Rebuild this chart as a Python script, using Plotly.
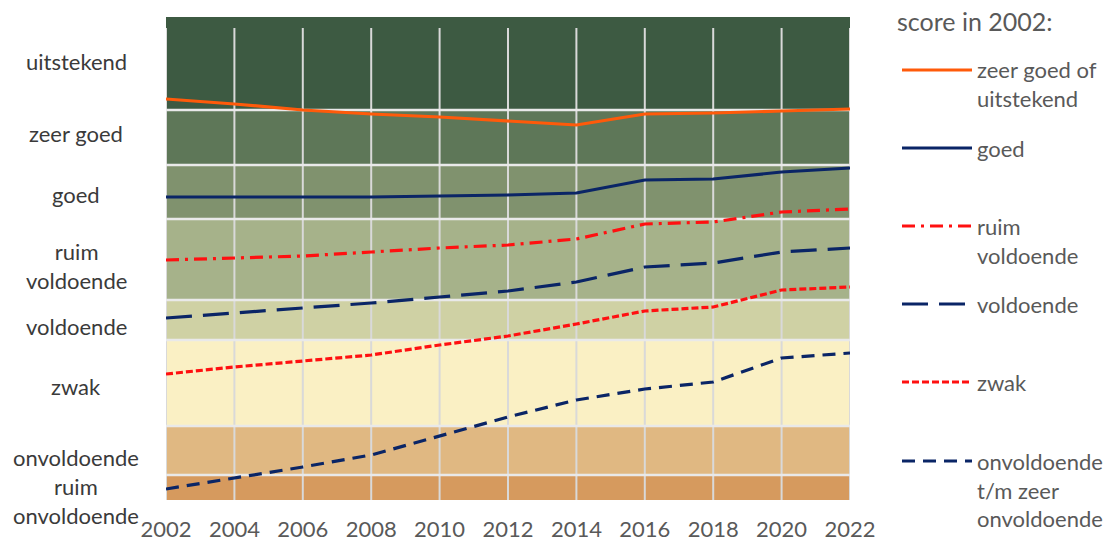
import plotly.graph_objects as go

# ---------------- data ----------------
years = [2002, 2004, 2006, 2008, 2010, 2012, 2014, 2016, 2018, 2020, 2022]

# score scale (0 = bottom of "ruim onvoldoende", 483 = top of "uitstekend")
zeer_goed_of_uitstekend = [401, 396, 390, 386, 383, 379, 375, 386, 387, 389, 391]
goed = [303, 303, 303, 303, 304, 305, 307, 320, 321, 328, 332]
ruim_voldoende = [240, 242, 244, 248, 252, 255, 261, 276, 278, 288, 291]
voldoende = [182, 187, 192, 197, 203, 209, 218, 233, 237, 248, 252]
zwak = [126, 133, 139, 145, 155, 164, 176, 189, 193, 210, 213]
onvoldoende_tm_zeer = [11, 22, 33, 45, 64, 83, 100, 111, 118, 142, 147]

band_names = ["ruim<br>onvoldoende", "onvoldoende", "zwak", "voldoende",
              "ruim<br>voldoende", "goed", "zeer goed", "uitstekend"]
band_bounds = [0, 25, 74, 160, 200, 281, 335, 390, 483]
band_label_y = [-1, 43, 114, 174, 234, 305, 367, 438]
band_colors = ["#D69A5E", "#E0B882", "#FAF0C4", "#CFD1A4",
               "#A6B28A", "#80926E", "#5E7758", "#3D5A42"]

series_names = ["zeer goed of<br>uitstekend", "goed", "ruim<br>voldoende",
                "voldoende", "zwak", "onvoldoende<br>t/m zeer<br>onvoldoende"]
series_values = [zeer_goed_of_uitstekend, goed, ruim_voldoende, voldoende, zwak,
                 onvoldoende_tm_zeer]
series_colors = ["#FF5A0A", "#0A2566", "#FF1010", "#0A2566", "#FF1010", "#0A2566"]
series_dash = ["solid", "solid", "13px,6px,3px,6px", "26px,11px", "7px,3px", "13px,8px"]

# ---------------- layout constants ----------------
VW, VH = 1112, 541           # viewport
PX0, PX1, PY0, PY1 = 166, 850, 17, 500   # plot area in viewport pixels
W, H = VW, VH
L, R, T, B = PX0, VW - PX1, PY0, VH - PY1
PW, PH = PX1 - PX0, PY1 - PY0
FONT = "Lato"
GRAY = "#595959"
DARK = "#3A3A3A"


def px_x(px):
    return (px - PX0) / PW


def px_y(py):
    return (PY1 - py) / PH


fig = go.Figure()

for name, vals, col, dash in zip(series_names, series_values, series_colors, series_dash):
    fig.add_trace(go.Scatter(x=years, y=vals, mode="lines", name=name,
                             line=dict(color=col, width=3.2, dash=dash),
                             showlegend=False, hoverinfo="x+y"))

shapes = []
for i, c in enumerate(band_colors):
    shapes.append(dict(type="rect", xref="x", yref="y", x0=years[0], x1=years[-1],
                       y0=band_bounds[i], y1=band_bounds[i + 1], fillcolor=c,
                       line=dict(width=0), layer="below"))
for yr in years:
    shapes.append(dict(type="line", xref="x", yref="y", x0=yr, x1=yr,
                       y0=band_bounds[0], y1=band_bounds[-1] - 11,
                       line=dict(color="#D9D9D9", width=2), layer="below"))
for b in band_bounds[1:-1]:
    shapes.append(dict(type="line", xref="x", yref="y", x0=years[0], x1=years[-1],
                       y0=b, y1=b, line=dict(color="#E9E9E9", width=2.5), layer="below"))

annotations = []
for name, yv in zip(band_names, band_label_y):
    annotations.append(dict(xref="paper", yref="paper", x=px_x(76),
                            y=yv / band_bounds[-1], text=name,
                            showarrow=False, xanchor="center", yanchor="middle",
                            font=dict(family=FONT, size=22, color=DARK)))

annotations.append(dict(xref="paper", yref="paper", x=px_x(895), y=px_y(21),
                        text="score in 2002:", showarrow=False, xanchor="left",
                        yanchor="middle", font=dict(family=FONT, size=25, color=GRAY)))
legend_line_y = [70, 148, 226, 304, 382, 461]
legend_text_y = [84, 148, 241, 304, 382, 490]
for name, col, dash, ly, ty in zip(series_names, series_colors, series_dash,
                                   legend_line_y, legend_text_y):
    shapes.append(dict(type="line", xref="paper", yref="paper", x0=px_x(902), x1=px_x(972),
                       y0=px_y(ly), y1=px_y(ly), line=dict(color=col, width=3.2, dash=dash)))
    annotations.append(dict(xref="paper", yref="paper", x=px_x(975), y=px_y(ty), text=name,
                            showarrow=False, xanchor="left", yanchor="middle", align="left",
                            font=dict(family=FONT, size=22, color=GRAY)))

fig.update_layout(
    width=W, height=H,
    margin=dict(l=L, r=R, t=T, b=B, pad=0, autoexpand=False),
    paper_bgcolor="white", plot_bgcolor="white",
    shapes=shapes, annotations=annotations,
    showlegend=False,
    xaxis=dict(range=[years[0], years[-1]], tickvals=years, ticktext=[str(y) for y in years],
               showgrid=False, zeroline=False, showline=False, ticks="",
               ticklabelstandoff=14, automargin=False,
               tickfont=dict(family=FONT, size=22, color=GRAY), fixedrange=True),
    yaxis=dict(range=[band_bounds[0], band_bounds[-1]], showgrid=False, zeroline=False,
               showticklabels=False, showline=False, ticks="", fixedrange=True,
               automargin=False),
)

fig.write_html("out.html", config={"displayModeBar": False},
               post_script="document.body.style.margin='0';document.body.style.overflow='hidden';")
